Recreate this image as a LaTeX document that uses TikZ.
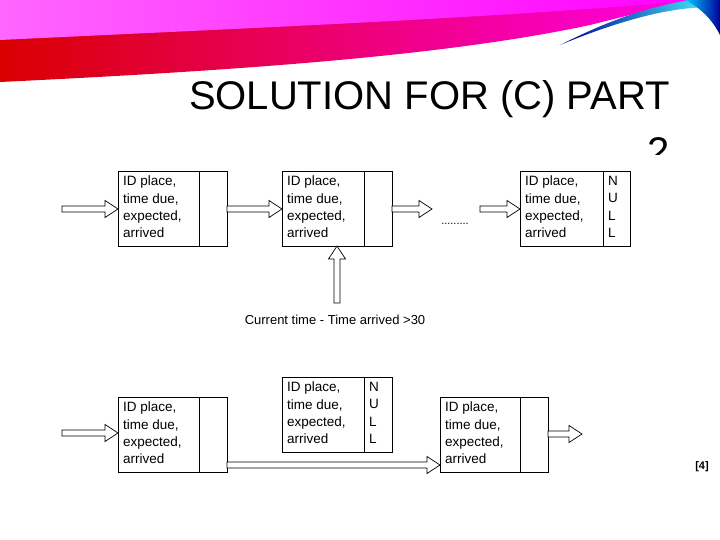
\documentclass[tikz,border=0pt]{standalone}
\usepackage{fontspec}
\setmainfont{Liberation Sans}
\usetikzlibrary{calc}
\tikzset{
 rec/.style={draw, line width=0.8pt, inner sep=0pt, anchor=north west, minimum height=75pt},
 txt/.style={anchor=north west, align=left, inner sep=0pt, font=\fontsize{13.5}{17.3}\selectfont},
 harrow/.style={draw, fill=white, line width=0.7pt}
}
\newcommand\hollow[2]{%
 \path[harrow] ($(#1)!3pt!90:(#2)$) -- ($($(#2)!13pt!(#1)$)!3pt!-90:(#1)$) -- ($($(#2)!13pt!(#1)$)!8.5pt!-90:(#1)$) -- (#2) -- ($($(#2)!13pt!(#1)$)!8.5pt!90:(#1)$) -- ($($(#2)!13pt!(#1)$)!3pt!90:(#1)$) -- ($(#1)!3pt!-90:(#2)$) -- cycle;}
\newcommand\listbox[6]{% name, x, y, width, divider x offset, right text
 \node[rec, minimum width=#4pt] (#1) at (#2,#3) {};
 \draw[line width=0.8pt] ($(#1.north west)+(#5pt,0)$) -- ($(#1.south west)+(#5pt,0)$);
 \node[txt] (#1t) at ($(#1.north west)+(5pt,-5pt)$) {ID place,\\time due,\\expected,\\arrived};
 \node[txt] (#1n) at ($(#1.north west)+(#5pt+5pt,-5pt)$) {#6};
}
\begin{document}
\begin{tikzpicture}[x=1pt,y=-1pt]
\useasboundingbox (0,0) rectangle (720,540);
% ribbon
\shade[left color=red!85!black, right color=magenta!90!red] (0,0) -- (0,82) .. controls (250,70) and (450,55) .. (590,25) .. controls (640,12) .. (690,0) -- cycle;
\shade[left color=magenta!60!white, right color=magenta] (0,0) -- (0,40) .. controls (250,28) and (500,18) .. (700,0) -- cycle;
\shade[left color=blue!60!black, right color=cyan!70] (560,45) .. controls (640,12) and (690,5) .. (720,8) -- (720,0) -- (690,0) .. controls (640,8) and (600,25) .. cycle;
\shade[left color=cyan!80!blue, right color=blue!60!black] (685,0) .. controls (705,10) and (715,25) .. (720,35) -- (720,0) -- cycle;
% title
\node[anchor=base east, inner sep=0pt, font=\fontsize{40}{40}\selectfont] (title) at (670,110) {SOLUTION FOR (C) PART};
\begin{scope}
\clip (600,120) rectangle (700,155);
\node[anchor=base east, inner sep=0pt, font=\fontsize{40}{40}\selectfont] (two) at (670,166) {2};
\end{scope}
% top row
\listbox{a}{118}{171}{109}{81}{}
\listbox{b}{282}{171}{110}{82}{}
\listbox{c}{520}{171}{110}{83}{N\\U\\L\\L}
\coordinate (in1) at (62,209);
\coordinate (a1) at (118,209);
\coordinate (a2) at (227,209);
\coordinate (b1) at (282,209);
\coordinate (b2) at (392,209);
\coordinate (d1) at (432,209);
\coordinate (d2) at (480,209);
\coordinate (c1) at (520,209);
\hollow{in1}{a1}\hollow{a2}{b1}\hollow{b2}{d1}\hollow{d2}{c1}
\node[font=\fontsize{11}{11}\selectfont, inner sep=0pt] (dots) at (455,224) {.........};
\coordinate (up1) at (337,303);
\coordinate (up2) at (337,246);
\hollow{up1}{up2}
\node[font=\fontsize{13}{13}\selectfont, inner sep=0pt] (cur) at (335,320) {Current time - Time arrived >30};
% bottom
\listbox{n}{282}{377}{110}{82}{N\\U\\L\\L}
\listbox{p}{118}{397}{109}{81}{}
\listbox{q}{440}{397}{108}{80}{}
\coordinate (in2) at (62,433);
\coordinate (p1) at (118,433);
\coordinate (p2) at (227,465);
\coordinate (q1) at (440,465);
\coordinate (q2) at (548,434);
\coordinate (out) at (582,434);
\hollow{in2}{p1}\hollow{p2}{q1}\hollow{q2}{out}
\node[font=\bfseries\fontsize{11}{11}\selectfont, inner sep=0pt] (ref) at (702,467) {[4]};
\end{tikzpicture}
\end{document}
